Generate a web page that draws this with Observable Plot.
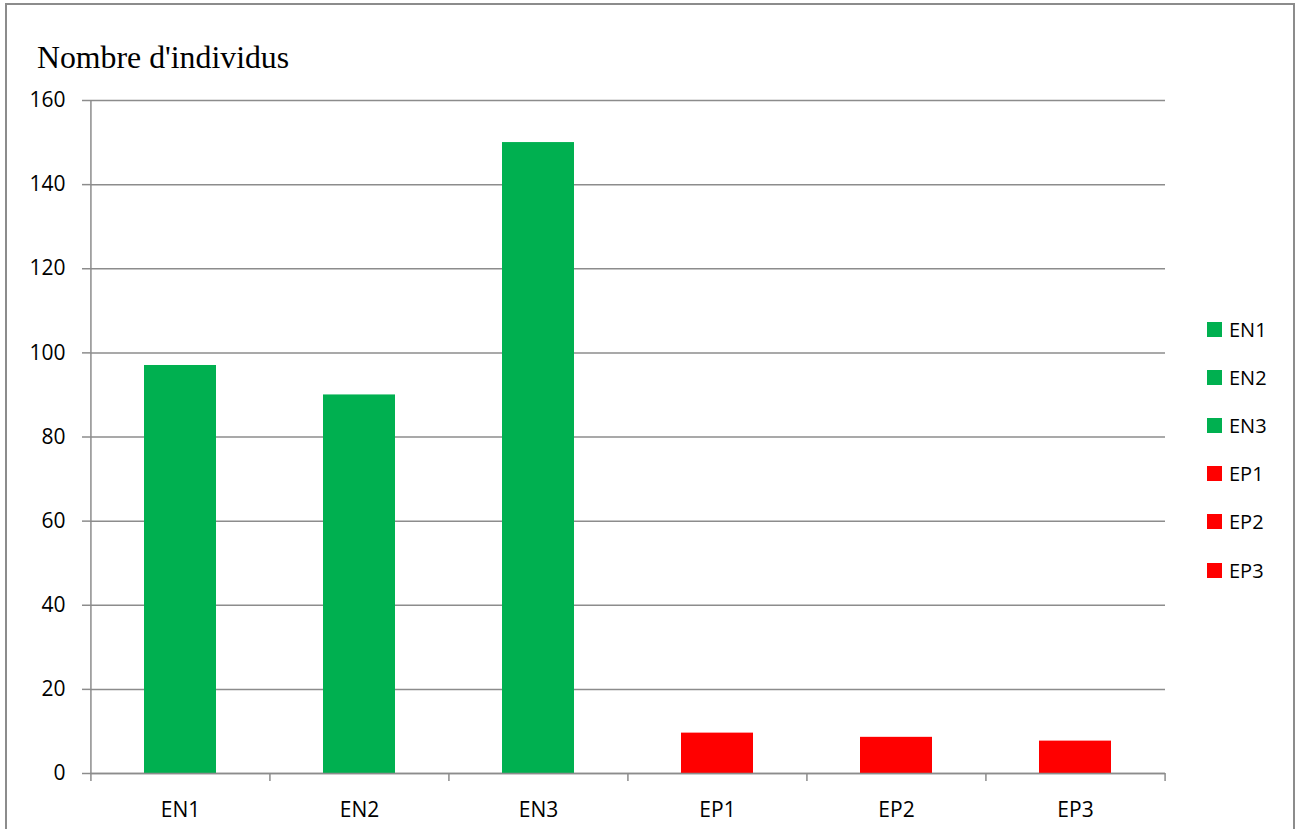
<!DOCTYPE html>
<html>
<head>
<meta charset="utf-8">
<script src="https://cdn.jsdelivr.net/npm/d3@7"></script>
<script src="https://cdn.jsdelivr.net/npm/@observablehq/plot@0.6"></script>
<style>
  html, body { margin: 0; padding: 0; background: white; overflow: hidden; }
  #wrap { position: relative; width: 1299px; height: 829px; }
  #border { position: absolute; left: 5px; top: 3px; width: 1290px; height: 900px; border: 2px solid #8c8c8c; box-sizing: border-box; pointer-events: none; z-index: 3; }
  #title { position: absolute; left: 37px; top: 40px; font-family: "Liberation Serif", serif; font-size: 31.8px; color: #000; z-index: 2; white-space: nowrap; }
  #legend { position: absolute; left: 1207px; top: 305px; font-family: "Open Sans", sans-serif; font-size: 20px; color: #000; z-index: 2; }
  .row { height: 48.2px; display: flex; align-items: center; }
  .sw { width: 15px; height: 15px; margin-right: 7px; }
  #chart { position: absolute; left: 0; top: 0; }
</style>
</head>
<body>
<div id="wrap">
  <div id="chart"></div>
  <div id="title">Nombre d'individus</div>
  <div id="legend"></div>
  <div id="border"></div>
</div>
<script>
const categories = ["EN1", "EN2", "EN3", "EP1", "EP2", "EP3"];
const values = [97, 90, 150, 9.6, 8.6, 7.7];
const colors = ["#00B050", "#00B050", "#00B050", "#FF0000", "#FF0000", "#FF0000"];
const yTicks = [0, 20, 40, 60, 80, 100, 120, 140, 160];

const data = categories.map((c, i) => ({cat: c, value: values[i], color: colors[i]}));

const W = 1299, H = 829, ML = 90, MR = 134, MT = 100, MB = 56;
const step = (W - ML - MR) / categories.length;
const gray = "#8c8c8c";

const plot = Plot.plot({
  width: W,
  height: H,
  marginLeft: ML,
  marginRight: MR,
  marginTop: MT,
  marginBottom: MB,
  style: {fontFamily: "Open Sans, sans-serif", fontSize: "21px", color: "#000", background: "transparent"},
  x: {domain: categories, paddingInner: 0.6, paddingOuter: 0.3, label: null},
  y: {domain: [0, 160], label: null},
  color: {type: "identity"},
  marks: [
    Plot.gridY(yTicks, {stroke: gray, strokeOpacity: 1, strokeWidth: 1.5}),
    Plot.barY(data, {x: "cat", y: "value", fill: "color"}),
    Plot.ruleY([0], {stroke: gray, strokeWidth: 1.5}),
    Plot.ruleX([categories[0]], {dx: -step / 2, stroke: gray, strokeWidth: 1.5}),
    Plot.axisY(yTicks, {label: null, tickSize: 8, tickPadding: 17, stroke: gray, strokeWidth: 1.5, fontSize: 21, fill: "#000", tickFormat: d => String(d)}),
    Plot.axisX(categories, {label: null, tickSize: 8, dx: -step / 2, stroke: gray, strokeWidth: 1.5, tickFormat: () => ""}),
    Plot.axisX([categories[categories.length - 1]], {label: null, tickSize: 8, dx: step / 2, stroke: gray, strokeWidth: 1.5, tickFormat: () => ""}),
    Plot.axisX(categories, {label: null, tickSize: 0, tickPadding: 29, fontSize: 21, fill: "#000"})
  ]
});
document.getElementById("chart").appendChild(plot);

const legend = document.getElementById("legend");
categories.forEach((c, i) => {
  const row = document.createElement("div");
  row.className = "row";
  const sw = document.createElement("div");
  sw.className = "sw";
  sw.style.background = colors[i];
  const t = document.createElement("span");
  t.textContent = c;
  row.appendChild(sw);
  row.appendChild(t);
  legend.appendChild(row);
});
</script>
</body>
</html>
